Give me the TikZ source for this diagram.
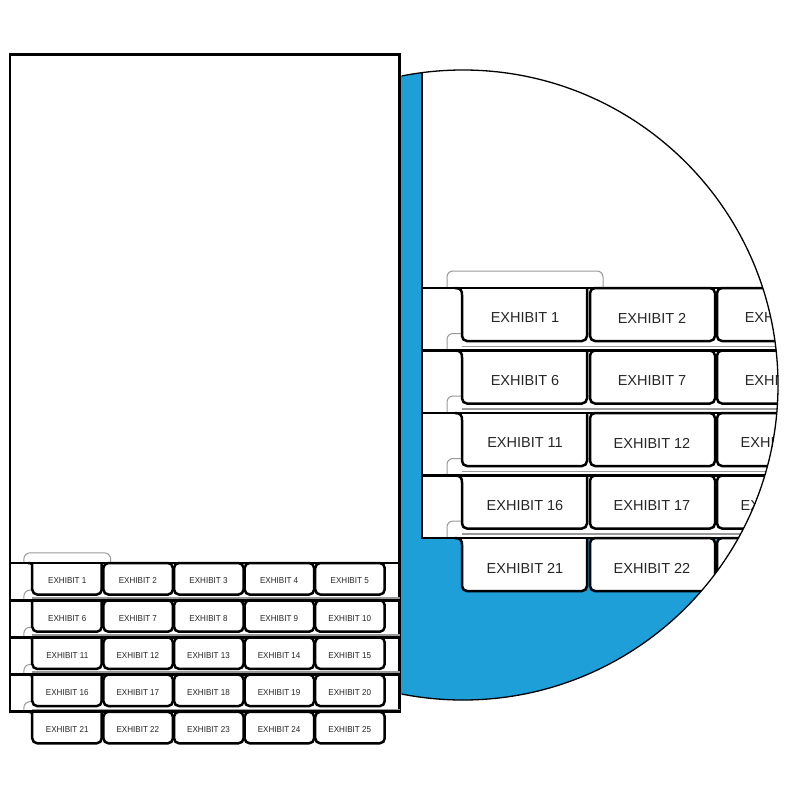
\documentclass[tikz,border=0pt]{standalone}
\usepackage{fontspec}
\setmainfont{Liberation Sans}
\definecolor{zoomblue}{HTML}{1E9FD8}

\begin{document}
\begin{tikzpicture}[x=1pt,y=-1pt,
    pageline/.style={draw=black, line width=2.9pt, fill=white},
    tabshape/.style={draw=black, line width=2.5pt, fill=white, rounded corners=5pt},
    ghosttab/.style={draw=black!40, line width=1pt, rounded corners=6pt},
    sheetedge/.style={draw=black!40, line width=1.4pt},
    rowline/.style={draw=black, line width=2.8pt},
    tablabel/.style={text=black!85, font=\fontsize{14.5}{15}\selectfont, inner sep=0pt}]

  \fill[white] (0,0) rectangle (800,800);
  \useasboundingbox (0,0) rectangle (800,800);

  % blue lens behind everything
  \fill[zoomblue] (463,385) circle [radius=315];

  % s = whole page, z = enlarged part inside the lens
  \foreach \v/\ox/\oy/\sx/\sy/\cr in {s/10/563/0.556/0.595/2000, z/422/288/1/1/315}{
    \begin{scope}
      \clip (463,385) circle [radius=\cr];
      \begin{scope}[shift={(\ox,\oy)}, xscale=\sx, yscale=\sy, transform shape]
        \draw[pageline] (0,-854) rectangle (701,250);
        \draw[ghosttab] (25,0) |- (181,-17) -- (181,0);
        \foreach \r in {1,...,4}{
          \draw[ghosttab] (25,\r*62.5) |- (181,\r*62.5-17) -- (181,\r*62.5-11);
        }
        \foreach \r in {0,...,4}{
          \pgfmathsetmacro\ty{\r*62.5}
          \ifnum\r>0 \draw[sheetedge] (40,\ty-4) -- (701,\ty-4); \fi
          % first tab has the flared top
          \draw[tabshape] (33,\ty) .. controls (39,\ty) and (40,\ty+3) .. (40,\ty+12)
            -- (40,\ty+53) -- (165,\ty+53) -- (165,\ty);
          \foreach \c in {2,...,5}{
            \draw[tabshape] (127*\c-86,\ty) rectangle +(125,53);
          }
          \foreach \c in {1,...,5}{
            \pgfmathtruncatemacro\n{5*\r+\c}
            \node[tablabel] (\v\n) at (127*\c-24,\ty+30) {EXHIBIT \n};
          }
          \draw[rowline] (0,\ty) -- (701,\ty);
        }
      \end{scope}
    \end{scope}
  }

  % lens rim, only where it is not behind the page
  \begin{scope}
    \clip (401.5,0) rectangle (800,800);
    \draw[line width=1.3pt] (463,385) circle [radius=315];
  \end{scope}
\end{tikzpicture}
\end{document}
